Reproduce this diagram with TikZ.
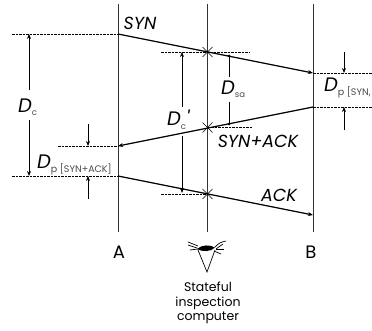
\documentclass[tikz,border=0pt]{standalone}
\usepackage{fontspec}
\setmainfont{Poppins}
\usetikzlibrary{arrows.meta}
\newcommand{\subtxt}{}
\newcommand{\bigD}[1]{\fontsize{19.5}{19.5}\selectfont\itshape D\raisebox{-3.5pt}{\fontsize{#1}{#1}\selectfont\upshape\color{black!70}\subtxt}}
\newcommand{\dlabel}[2]{\renewcommand{\subtxt}{#2}\bigD{#1}}
\tikzset{
  x=1pt,y=-1pt,
  vline/.style={line width=0.8pt,black!80},
  msg/.style={line width=1.2pt,-{Stealth[length=5pt,width=4pt]}},
  dashref/.style={line width=0.9pt,dash pattern=on 2.5pt off 1pt},
  meas/.style={line width=1pt,-{Stealth[length=5pt,width=4pt]}},
  measplain/.style={line width=0.9pt},
  lab/.style={inner sep=0pt,font=\fontsize{17.5}{17.5}\selectfont\itshape},
  endlab/.style={inner sep=0pt,font=\fontsize{18}{18}\selectfont},
  captxt/.style={inner sep=0pt,align=center,font=\fontsize{12.5}{14.5}\selectfont},
  dlab/.style={inner sep=0pt,anchor=west},
  crossm/.style={line width=0.4pt},
  eyeline/.style={line width=0.7pt}
}
\begin{document}
\begin{tikzpicture}
\useasboundingbox (0,0) rectangle (372,331);
\fill[white] (0,0) rectangle (372,331);
% lifelines
\coordinate (Atop) at (118,4); \coordinate (Abot) at (118,232);
\coordinate (Mtop) at (207.5,4); \coordinate (Mbot) at (207.5,232);
\coordinate (Btop) at (313,4); \coordinate (Bbot) at (313,232);
\draw[vline] (Atop) -- (Abot);
\draw[vline] (Mtop) -- (Mbot);
\draw[vline] (Btop) -- (Bbot);
% message points
\coordinate (a1) at (118,34); \coordinate (b1) at (313,73);
\coordinate (b2) at (313,107); \coordinate (a2) at (118,146);
\coordinate (a3) at (118,176); \coordinate (b3) at (313,215);
\coordinate (m1) at (207.5,52); \coordinate (m2) at (207.5,127.5); \coordinate (m3) at (207.5,194);
% dashed references
\coordinate (l1) at (12,34); \coordinate (l2) at (58,146); \coordinate (l3) at (12,176);
\coordinate (r1) at (372,73); \coordinate (r2) at (372,107);
\coordinate (m1l) at (161,52); \coordinate (m1r) at (250,52);
\coordinate (m2r) at (252,127.5); \coordinate (m3l) at (161,194);
\draw[dashref] (l1) -- (a1);
\draw[dashref] (l2) -- (a2);
\draw[dashref] (l3) -- (a3);
\draw[dashref] (b1) -- (r1);
\draw[dashref] (b2) -- (r2);
\draw[dashref] (m1l) -- (m1r);
\draw[dashref] (m2) -- (m2r);
\draw[dashref] (m3l) -- (m3);
% messages
\draw[msg] (a1) -- (b1);
\draw[msg] (b2) -- (a2);
\draw[msg] (a3) -- (b3);
% crosses
\foreach \c in {m1,m2,m3}{
  \draw[crossm] ([shift={(-5,-5)}]\c) -- ([shift={(5,5)}]\c);
  \draw[crossm] ([shift={(-5,5)}]\c) -- ([shift={(5,-5)}]\c);
}
% labels
\node[lab] (syn) at (140,23) {SYN};
\node[lab] (synack) at (258,141) {SYN+ACK};
\node[lab] (ack) at (279,195) {ACK};
\node[endlab] (A) at (119,252) {A};
\node[endlab] (B) at (311,252) {B};
\node[captxt] (comp) at (208,303) {Stateful\\inspection\\computer};
\node[dlab] (dc) at (18,107) {\dlabel{8.5}{c}};
\node[dlab] (dcp) at (167,120) {\dlabel{8.5}{c}\textquotesingle};
\node[dlab] (dsa) at (221,89) {\dlabel{8.5}{sa}};
\node[dlab] (dpa) at (37,165) {\dlabel{9.5}{p [SYN+ACK]}};
\node[dlab] (dps) at (324,88) {\dlabel{9.5}{p [SYN,}};
% D_c measure
\coordinate (dc1) at (29,34); \coordinate (dc1b) at (29,90);
\coordinate (dc2) at (29,176); \coordinate (dc2b) at (29,120);
\draw[meas] (dc1b) -- (dc1);
\draw[meas] (dc2b) -- (dc2);
% D_c' measure
\coordinate (dp1) at (182,52); \coordinate (dp1b) at (182,107);
\coordinate (dp2) at (182,193); \coordinate (dp2b) at (182,136);
\draw[meas] (dp1b) -- (dp1);
\draw[meas] (dp2b) -- (dp2);
% D_sa measure
\coordinate (ds1) at (229,56); \coordinate (ds1b) at (229,77);
\coordinate (ds2) at (229,124); \coordinate (ds2b) at (229,102);
\draw[measplain] (ds1b) -- (ds1);
\draw[measplain] (ds2b) -- (ds2);
\fill (ds1) circle (1.5); \fill (ds2) circle (1.5);
% D_p measures
\coordinate (p1) at (88,124); \coordinate (p1e) at (88,146);
\coordinate (p2) at (88,199); \coordinate (p2e) at (88,176);
\draw[meas] (p1) -- (p1e);
\draw[meas] (p2) -- (p2e);
\coordinate (q1) at (344,52); \coordinate (q1e) at (344,73);
\coordinate (q2) at (344,130); \coordinate (q2e) at (344,107);
\draw[meas] (q1) -- (q1e);
\draw[meas] (q2) -- (q2e);
% eye
\draw[eyeline] (198,250) -- (207,272) -- (215,250);
\fill (197,249) .. controls (202,244.5) and (210,244.5) .. (215,247.5) .. controls (211,252) and (202,252) .. (197,249) -- cycle;
\draw[eyeline] (188,242) -- (198,246);
\draw[eyeline] (188,245) -- (197,248);
\draw[eyeline] (190,250) -- (198,249);
\draw[eyeline] (215,247) .. controls (219,243) and (221,242) .. (226,241);
\draw[eyeline] (216,249) -- (223,244);
\draw[eyeline] (216,249) -- (224,249);
\draw[eyeline] (214,251) -- (221,254);
\end{tikzpicture}
\end{document}
